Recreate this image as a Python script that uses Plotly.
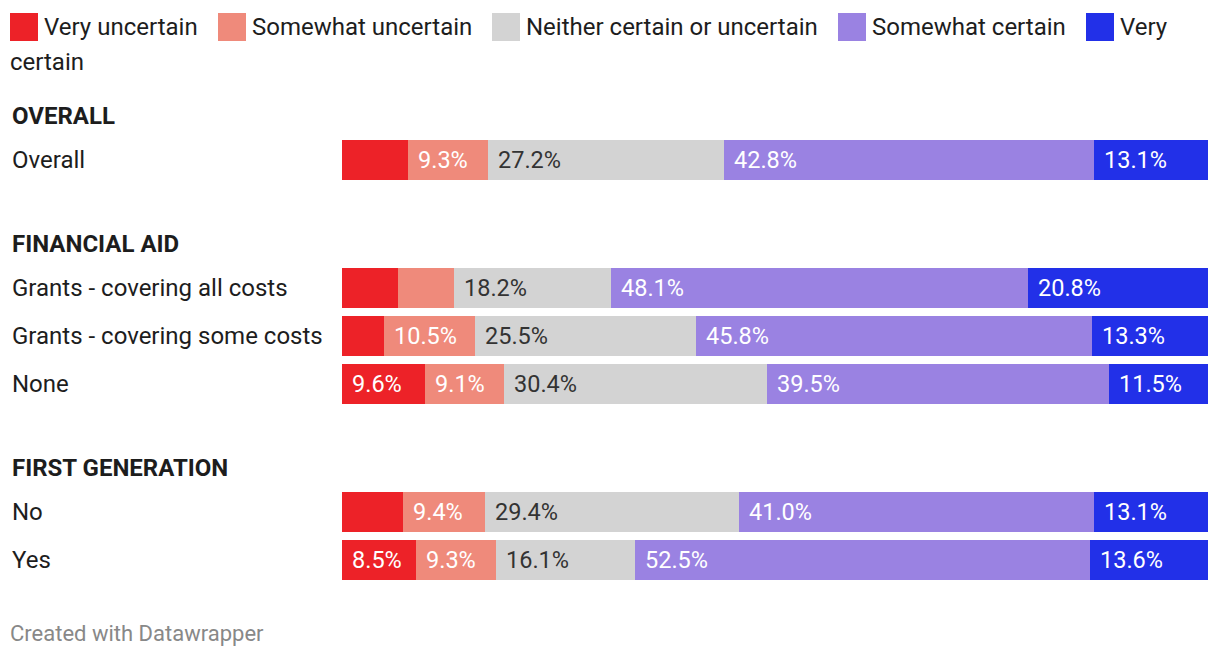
import plotly.graph_objects as go

# ---------------- data ----------------
groups = ["OVERALL", "FINANCIAL AID", "FIRST GENERATION"]
row_labels = ["Overall",
              "Grants - covering all costs", "Grants - covering some costs", "None",
              "No", "Yes"]
row_group = [0, 1, 1, 1, 2, 2]

series_names = ["Very uncertain", "Somewhat uncertain", "Neither certain or uncertain",
                "Somewhat certain", "Very certain"]
very_uncertain = [7.6, 6.5, 4.9, 9.6, 7.1, 8.5]
somewhat_uncertain = [9.3, 6.4, 10.5, 9.1, 9.4, 9.3]
neither = [27.2, 18.2, 25.5, 30.4, 29.4, 16.1]
somewhat_certain = [42.8, 48.1, 45.8, 39.5, 41.0, 52.5]
very_certain = [13.1, 20.8, 13.3, 11.5, 13.1, 13.6]
series_values = [very_uncertain, somewhat_uncertain, neither, somewhat_certain, very_certain]

# ---------------- style ----------------
colors = ["#ed2228", "#ef8a7b", "#d3d3d3", "#9a82e2", "#2230e8"]
text_colors = ["#ffffff", "#ffffff", "#333333", "#ffffff", "#ffffff"]
FONT = "Roboto"
FS = 24
FS_VAL = 23.5
W, H = 1220, 658
ML, MR = 342, 12
PW = W - ML - MR
LABEL_MIN = 8.0  # values below this get no in-bar label

def px(x):
    """pixel x -> paper x"""
    return (x - ML) / PW

# vertical layout (y axis measured in pixels from the top)
HEADER_Y0 = 116
HEADER_TO_ROW = 44
ROW_STEP = 48
GROUP_GAP = 84
BAR_H = 40

header_y = []
row_y = []
y = HEADER_Y0
for g in range(len(groups)):
    header_y.append(y)
    y += HEADER_TO_ROW
    idx = [i for i, rg in enumerate(row_group) if rg == g]
    for k, i in enumerate(idx):
        if k > 0:
            y += ROW_STEP
        row_y.append(y)
    y += GROUP_GAP

fig = go.Figure()
for s, name in enumerate(series_names):
    fig.add_trace(go.Bar(
        x=series_values[s], y=row_y, orientation="h", width=BAR_H,
        name=name, marker=dict(color=colors[s], line=dict(width=0)),
        showlegend=False, hovertemplate=name + ": %{x:.1f}%<extra></extra>",
    ))

annotations = []
# in-bar value labels
for i in range(len(row_labels)):
    base = 0.0
    for s in range(len(series_names)):
        v = series_values[s][i]
        if v >= LABEL_MIN:
            annotations.append(dict(
                x=base, y=row_y[i], xref="x", yref="y", xanchor="left", yanchor="middle",
                xshift=8, text=f"{v:.1f}%", showarrow=False,
                font=dict(family=FONT, size=FS_VAL, color=text_colors[s])))
        base += v

# row labels
for i, lab in enumerate(row_labels):
    annotations.append(dict(
        x=px(10), y=row_y[i], xref="paper", yref="y", xanchor="left", yanchor="middle",
        text=lab, showarrow=False, font=dict(family=FONT, size=FS, color="#1d1d1d")))
# group headers
for g, lab in enumerate(groups):
    annotations.append(dict(
        x=px(10), y=header_y[g], xref="paper", yref="y", xanchor="left", yanchor="middle",
        text=f"<b>{lab}</b>", showarrow=False, font=dict(family=FONT, size=FS, color="#1d1d1d")))

# custom legend (wraps like the original)
legend_x = [10, 218, 492, 838, 1086]
legend_y = 27
shapes = []
for s, name in enumerate(series_names):
    shapes.append(dict(type="rect", xref="paper", yref="y",
                       x0=px(legend_x[s]), x1=px(legend_x[s] + 28),
                       y0=legend_y - 14, y1=legend_y + 14,
                       fillcolor=colors[s], line=dict(width=0)))
    txt = name if s < 4 else "Very"
    annotations.append(dict(
        x=px(legend_x[s] + 32), y=legend_y, xref="paper", yref="y", xanchor="left", yanchor="middle",
        text=txt, showarrow=False, font=dict(family=FONT, size=FS, color="#1d1d1d")))
annotations.append(dict(
    x=px(8), y=62, xref="paper", yref="y", xanchor="left", yanchor="middle",
    text="certain", showarrow=False, font=dict(family=FONT, size=FS, color="#1d1d1d")))

# footer
annotations.append(dict(
    x=px(8), y=633, xref="paper", yref="y", xanchor="left", yanchor="middle",
    text="Created with Datawrapper", showarrow=False, font=dict(family=FONT, size=22, color="#888888")))

fig.update_layout(
    width=W, height=H, barmode="stack",
    margin=dict(l=ML, r=MR, t=0, b=0, pad=0),
    paper_bgcolor="white", plot_bgcolor="white",
    xaxis=dict(range=[0, 100.05], visible=False, fixedrange=True),
    yaxis=dict(range=[H, 0], visible=False, fixedrange=True),
    bargap=0, annotations=annotations, shapes=shapes,
    font=dict(family=FONT, size=FS, color="#1d1d1d"),
)

fig.write_html("out.html", config={"displayModeBar": False},
               post_script="document.body.style.margin='0';document.body.style.overflow='hidden';")
